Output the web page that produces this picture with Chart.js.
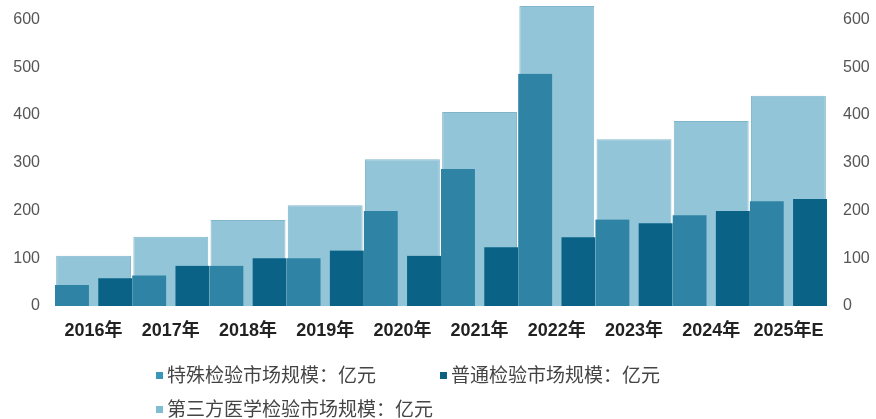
<!DOCTYPE html>
<html>
<head>
<meta charset="utf-8">
<script src="https://cdn.jsdelivr.net/npm/chart.js@4.4.0/dist/chart.umd.min.js"></script>
<style>
body { margin: 0; background: #fff; }
#wrap { position: relative; width: 876px; height: 419px; }
#legend .item { position: absolute; height: 22px; line-height: 22px; white-space: nowrap;
	font-family: "Noto Sans CJK SC", sans-serif; font-size: 19px; color: #444; }
#legend .box { display: inline-block; width: 7px; height: 7px; margin-right: 4px; vertical-align: middle; position: relative; top: -1px; }
</style>
</head>
<body>
<div id="wrap">
	<canvas id="barChart" width="876" height="419"></canvas>
	<div id="legend"></div>
</div>
<script>
// data (亿元)
var years = ['2016年', '2017年', '2018年', '2019年', '2020年', '2021年', '2022年', '2023年', '2024年', '2025年E'];
var specialTest = [44, 64, 84, 100, 199, 287, 486, 181, 190, 219];
var generalTest = [58, 84, 100, 116, 105, 123, 144, 173, 199, 224];
var thirdParty = [105, 145, 180, 211, 307, 406, 628, 349, 387, 440];
var axisTicks = [0, 100, 200, 300, 400, 500, 600];

var lightBlue = '#93c5d9';
var tickFont = { family: '"Liberation Sans", Arial, sans-serif', size: 16 };

function fixedTicks(axis) {
	axis.ticks = axisTicks.map(function (v) { return { value: v }; });
}

// y axes: fixed width, and no extra room above the plot for the top label
function fitY(width) {
	return function (s) {
		s.width = width;
		s.paddingTop = 0;
		s.paddingBottom = 0;
	};
}

var ctx = document.getElementById('barChart').getContext('2d');
var barChart = new Chart(ctx, {
	type: 'bar',
	data: {
		labels: years,
		datasets: [{
			label: '特殊检验市场规模：亿元',
			data: specialTest,
			backgroundColor: '#2f84a5',
			borderColor: lightBlue,
			borderWidth: { right: 5 },
			borderSkipped: 'start',
			categoryPercentage: 1,
			barPercentage: 1
		}, {
			label: '普通检验市场规模：亿元',
			data: generalTest,
			backgroundColor: '#0a6386',
			borderColor: lightBlue,
			borderWidth: { left: 5 },
			borderSkipped: 'start',
			categoryPercentage: 1,
			barPercentage: 1
		}, {
			label: '第三方医学检验市场规模：亿元',
			data: thirdParty,
			backgroundColor: lightBlue,
			borderColor: '#80b6cc',
			borderWidth: 1,
			borderSkipped: 'start',
			grouped: false,
			categoryPercentage: 0.97,
			barPercentage: 1
		}]
	},
	options: {
		responsive: false,
		animation: false,
		layout: { padding: { top: 5, bottom: 63 } },
		plugins: {
			legend: { display: false },
			tooltip: { enabled: false }
		},
		scales: {
			x: {
				grid: { display: false, drawTicks: false },
				border: { display: false },
				ticks: {
					color: '#222',
					padding: 14,
					maxRotation: 0,
					font: { family: '"Liberation Sans", "Noto Sans CJK SC", sans-serif', size: 18, weight: 'bold' }
				},
				afterFit: function (s) { s.height = 50; }
			},
			y: {
				position: 'left',
				min: 0,
				max: 630,
				grid: { display: false, drawTicks: false },
				border: { display: false },
				ticks: { color: '#555', padding: 15, font: tickFont },
				afterBuildTicks: fixedTicks,
				afterFit: fitY(55)
			},
			y2: {
				position: 'right',
				min: 0,
				max: 630,
				grid: { display: false, drawTicks: false },
				border: { display: false },
				ticks: { color: '#555', padding: 16, font: tickFont },
				afterBuildTicks: fixedTicks,
				afterFit: fitY(49)
			}
		}
	}
});

// legend laid out like the original: two items on the first row, one below
var legendSpots = [[156, 363], [440, 363], [156, 397]];
var legendBoxColors = ['#3a97b8', '#0d5f80', '#80bdd2'];
var legendEl = document.getElementById('legend');
barChart.data.datasets.forEach(function (ds, i) {
	var item = document.createElement('div');
	item.className = 'item';
	item.style.left = legendSpots[i][0] + 'px';
	item.style.top = legendSpots[i][1] + 'px';
	var box = document.createElement('span');
	box.className = 'box';
	box.style.background = legendBoxColors[i];
	item.appendChild(box);
	item.appendChild(document.createTextNode(ds.label));
	legendEl.appendChild(item);
});
</script>
</body>
</html>
